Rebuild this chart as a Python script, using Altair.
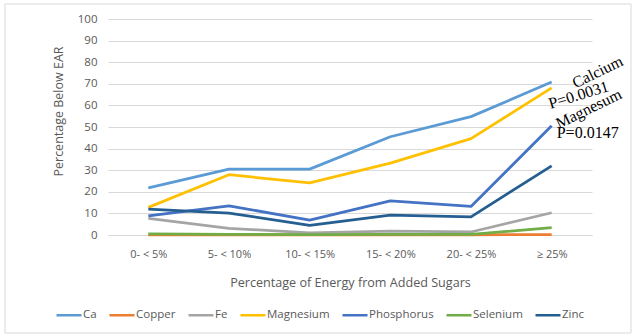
import altair as alt
import pandas as pd

categories = ["0- < 5%", "5- < 10%", "10- < 15%", "15- < 20%", "20- < 25%", "≥ 25%"]
series = ["Ca", "Copper", "Fe", "Magnesium", "Phosphorus", "Selenium", "Zinc"]
colors = ["#5B9BD5", "#ED7D31", "#A5A5A5", "#FFC000", "#4472C4", "#70AD47", "#255E91"]

ca = [21.8, 30.5, 30.5, 45.5, 54.8, 70.8]
copper = [0.1, 0.1, 0.1, 0.1, 0.1, 0.2]
fe = [7.7, 3.1, 1.0, 1.8, 1.4, 10.3]
magnesium = [12.8, 27.9, 24.1, 33.3, 44.6, 68.1]
phosphorus = [8.9, 13.5, 6.9, 15.8, 13.2, 50.6]
selenium = [0.5, 0.3, 0.2, 0.3, 0.3, 3.4]
zinc = [12.0, 10.1, 4.5, 9.2, 8.4, 32.0]

values = [ca, copper, fe, magnesium, phosphorus, selenium, zinc]
rows = []
for name, vals in zip(series, values):
    for c, v in zip(categories, vals):
        rows.append({"nutrient": name, "group": c, "pct": v})
df = pd.DataFrame(rows)

FONT = "Liberation Sans Narrow, Open Sans, sans-serif"
SERIF = "Liberation Serif, Times New Roman, serif"
GRAY = "#595959"

x_enc = alt.X(
    "group:N",
    sort=categories,
    scale=alt.Scale(type="point", padding=0.5),
    axis=alt.Axis(
        title="Percentage of Energy from Added Sugars",
        labelAngle=0,
        labelFont=FONT, labelFontSize=11, labelColor=GRAY, labelPadding=13,
        titleFont=FONT, titleFontSize=12.6, titleColor=GRAY, titleFontWeight="normal",
        titleY=47, titleBaseline="middle",
        ticks=False, domainColor="#d9d9d9", grid=False,
    ),
)
y_enc = alt.Y(
    "pct:Q",
    scale=alt.Scale(domain=[0, 100]),
    axis=alt.Axis(
        title="Percentage Below  EAR",
        values=list(range(0, 101, 10)),
        labelFont=FONT, labelFontSize=11.5, labelColor=GRAY, labelPadding=11,
        titleFont=FONT, titleFontSize=12.5, titleColor=GRAY, titleFontWeight="normal",
        titleX=-50, titleY=111 - 19, titleAlign="center", titleBaseline="middle",
        ticks=False, domain=False, gridColor="#d9d9d9", gridWidth=1,
    ),
)

lines = alt.Chart(df).mark_line(strokeWidth=2.75, strokeJoin="round").encode(
    x=x_enc,
    y=y_enc,
    color=alt.Color(
        "nutrient:N",
        sort=series,
        scale=alt.Scale(domain=series, range=colors),
        legend=alt.Legend(
            title=None, orient="none", direction="horizontal",
            legendX=-53, legendY=282,
            symbolType="stroke", symbolSize=625, symbolStrokeWidth=2.5,
            labelFont=FONT, labelFontSize=11.5, labelColor=GRAY,
            labelOffset=0, columnPadding=7,
        ),
    ),
    order=alt.Order("nutrient:N"),
)


def annotation(text, anchor_vals, ox, oy, angle):
    d = pd.DataFrame({"group": [categories[-1]], "pct": [anchor_vals[-1]]})
    return alt.Chart(d).mark_text(
        text=text, angle=angle, align="center", baseline="middle",
        font=SERIF, fontSize=16, color="#000000",
    ).encode(
        x=x_enc,
        y=y_enc,
        xOffset=alt.value(ox),
        yOffset=alt.value(oy),
    )


ann = (
    annotation("Calcium", ca, 46, -10, 334)
    + annotation("P=0.0031", ca, 27, 13, 343)
    + annotation("Magnesum", magnesium, 37, 21, 334)
    + annotation("P=0.0147", phosphorus, 36, 7, 0)
)

border = alt.Chart(pd.DataFrame({"a": [0]})).mark_rect(
    fill="white", fillOpacity=0, stroke="#d9d9d9", strokeWidth=1
).encode(
    x=alt.value(-103), x2=alt.value(523), y=alt.value(-15), y2=alt.value(314)
)

chart = (
    alt.layer(border, lines, ann)
    .properties(
        width=484, height=216,
        padding={"left": 108, "top": 19, "right": 45, "bottom": 101},
        autosize=alt.AutoSizeParams(type="none"),
        background="white",
    )
    .configure_view(stroke=None)
)

chart.save("out.html", embed_options={"renderer": "svg", "actions": False})
